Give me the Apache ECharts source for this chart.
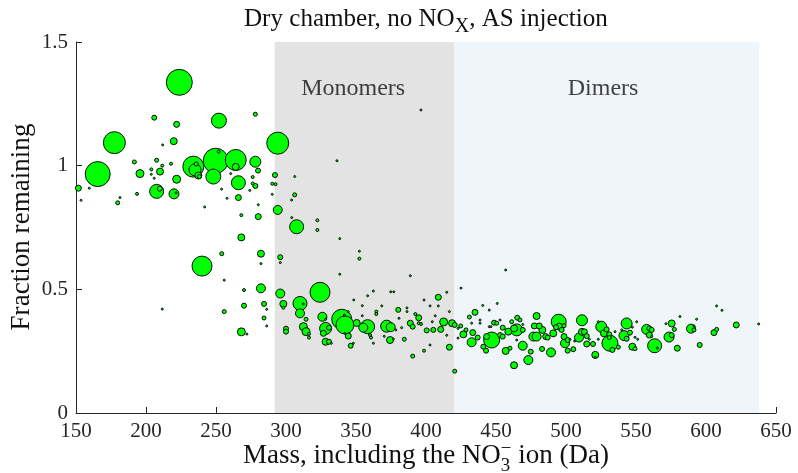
<!DOCTYPE html>
<html><head><meta charset="utf-8">
<script src="https://cdn.jsdelivr.net/npm/echarts@6/dist/echarts.min.js"></script>
<style>html,body{margin:0;padding:0;background:#fff}#c{width:798px;height:473px}</style>
</head><body><div id="c"></div><script>
// ---- data ----
const massDa = [
151.7,153.6,159.5,165.5,177.4,179.8,181.4,191.7,193.6,195.7,203.8,203.8,205.9,205.9,207.6,207.6,209.8,210,211.6,211.9,
211.6,217.9,219.8,220,221.5,221.9,221.9,223.8,233.8,235,237.4,235.9,238.1,240,241.9,248.1,249.8,251.9,252.1,254,
254.1,255.9,255.9,257.9,260.5,264.1,264.1,266,266,268.1,268.1,268.1,270,270,272.1,276.2,276.2,274.1,278.1,278.1,
278.1,280,280.2,280.2,282.1,282.1,282.1,284.3,284.3,286.2,286.2,
290.2,292.1,292.5,290.2,294.1,294.1,295.9,295.9,295.9,298.1,298.1,300,300,304,304.1,306.2,306.2,307.6,310,310,
312.4,312.4,314.3,314.3,316.4,316.4,322.4,322.4,324.3,326,328.3,328.3,330.7,326.7,328.3,330.7,332.4,336.4,338.4,338.4,
339.8,342.1,344.5,341.7,344.5,346.2,348.1,348.4,350.5,352.4,352.4,354.5,354.5,355.2,358.3,358.3,360,360.7,362.4,362.4,
364.5,364.5,368.4,371.9,374.8,370.2,374.3,376.7,374.8,377,380.2,380.7,378.4,382.6,384.5,386.4,386.4,388.8,388.8,390.5,
390.5,392.4,394.8,394.8,396.4,396.4,398.6,402.9,398.6,400.5,402.9,404.5,405.2,406.6,408.8,408.8,410.5,412.6,414.8,414.8,
416.7,416.7,418.6,420.5,420.5,422.9,422.9,342.1,
425,440.5,450.9,445.2,435,424.8,426.7,428.6,431,432.6,433.4,432.6,436.9,438.6,438.6,440.9,442.9,443.3,446.9,445.2,
446.4,448.6,450.5,452.9,454.8,452.9,454.8,456.9,460,458.8,461.2,462.9,464.8,465.2,467.1,462.9,469.1,469.1,469.1,464.8,
473.1,474.8,476.7,479,477.4,479,480.9,483.1,482.9,485.5,486.9,489.3,490.9,492.9,494.8,495.2,496.9,498.6,498.6,499.3,
501.2,502.9,501.2,505.2,506.2,509.3,511.4,511.4,513.1,514.8,514.8,516.7,519.3,520.9,520.9,523.1,523.1,525.2,527.1,529,
530.9,530.9,531.4,533.1,535,537.4,539.8,543.3,541.4,543.3,545.7,547.4,547.4,549.3,549.3,551.2,550.5,557.6,559.5,561.2,
559.5,561.2,563.3,565.2,571.4,575.5,577.4,581.4,573.6,575.5,579.5,589.3,591.4,591.4,593.3,595.5,607.6,611.4,605.7,607.6,
621.6,637.6,456.9
];
const fractionRemaining = [
0.909,0.86,0.909,0.966,1.093,0.85,0.871,1.015,0.886,0.968,0.985,0.965,1.194,0.949,1.022,0.896,0.907,0.976,1.0,1.084,
0.42,1.008,1.099,0.886,0.89,1.167,0.945,1.337,0.996,0.983,0.96,1.007,0.956,0.594,0.833,0.956,1.02,1.057,1.182,0.905,
0.644,0.537,0.41,0.868,0.968,1.023,0.995,0.931,0.871,0.80,0.71,0.328,0.497,0.434,0.319,0.954,0.928,0.90,1.016,1.208,
0.918,0.98,0.842,0.794,0.644,0.504,0.604,0.441,0.384,0.352,0.419,
0.927,0.962,0.925,0.884,1.091,0.821,0.63,0.608,0.483,0.441,0.426,0.341,0.329,0.861,0.79,0.956,0.882,0.753,0.443,0.403,
0.441,0.349,0.379,0.329,0.32,0.305,0.779,0.74,0.488,0.389,0.379,0.342,0.345,0.322,0.288,0.288,0.282,1.02,0.705,0.561,
0.379,0.356,0.41,0.396,0.311,0.272,0.282,0.457,0.364,0.654,0.624,0.393,0.434,0.345,0.349,0.474,0.315,0.305,0.493,0.282,
0.41,0.40,0.433,0.351,0.347,0.31,0.295,0.299,0.49,0.49,0.417,0.383,0.336,0.345,0.298,0.41,0.425,0.555,0.363,0.349,
0.23,0.40,0.385,0.363,0.36,1.225,0.457,0.433,0.252,0.334,0.275,0.369,0.336,0.393,0.468,0.433,0.338,0.368,0.488,0.314,
0.41,0.266,0.363,0.356,0.169,0.342,0.303,0.322,
0.505,0.435,0.443,0.416,0.407,0.352,0.318,0.336,0.388,0.363,0.325,0.286,0.305,0.376,0.363,0.268,0.252,0.309,0.295,0.349,
0.349,0.365,0.363,0.376,0.345,0.315,0.309,0.251,0.262,0.329,0.369,0.342,0.336,0.385,0.376,0.193,0.358,0.336,0.272,0.295,
0.214,0.248,0.309,0.309,0.352,0.392,0.352,0.336,0.259,0.309,0.305,0.245,0.322,0.347,0.369,0.349,0.336,0.353,0.309,0.282,
0.295,0.298,0.252,0.258,0.291,0.305,0.375,0.328,0.328,0.311,0.279,0.298,0.279,0.235,0.225,0.369,0.298,0.349,0.322,0.338,
0.318,0.305,0.282,0.255,0.329,0.266,0.336,0.362,0.313,0.30,0.325,0.347,0.268,0.26,0.306,0.298,0.369,0.338,0.342,0.336,
0.315,0.309,0.272,0.263,0.361,0.362,0.338,0.39,0.307,0.315,0.262,0.341,0.336,0.352,0.379,0.275,0.433,0.415,0.325,0.338,
0.356,0.36,0.578
];
// signal (marker area, arbitrary units)
const signalArea = [
36,4,4,625,484,16,4,16,9,64,9,4,25,4,16,196,25,49,9,4,
4,9,49,100,4,36,64,676,441,144,49,16,16,400,4,225,625,9,225,4,
16,4,16,4,4,441,49,196,36,9,49,64,9,25,4,9,9,4,121,16,
25,25,4,36,49,81,4,25,16,4,4,
9,25,9,4,484,81,25,4,81,49,9,25,25,4,4,4,16,196,196,81,
4,64,16,64,9,9,9,9,400,81,4,144,25,36,49,25,4,4,4,4,
400,324,4,4,36,25,4,4,49,4,9,4,4,81,196,4,9,9,4,4,
9,9,4,144,81,4,49,4,4,4,25,4,4,4,16,4,4,4,36,25,
16,9,36,9,9,4,4,4,9,25,4,4,25,4,36,4,36,64,4,4,
4,36,49,25,16,4,4,4,
4,4,4,4,36,16,49,16,16,4,36,81,25,4,4,25,25,36,256,4,
4,25,16,4,25,25,25,49,16,49,16,49,144,25,16,49,4,25,81,4,
81,25,81,81,36,49,36,49,25,36,25,81,49,25,225,49,25,16,36,81,
25,4,25,25,4,81,121,49,36,25,36,4,25,49,4,4,4,121,49,25,
25,16,256,25,4,16,4,121,100,25,25,4,49,16,4,4,4,100,25,25,
36,4,196,4,4,49,16,4,100,25,36,81,16,4,4,25,4,4,36,16,
36,4,4
];
const xTicks = {min: 150, max: 650, step: 50};
const yTicks = {min: 0, max: 1.5, step: 0.5};
const regionNames = ['Monomers', 'Dimers'];
const regionFrom = [292, 420];
const regionTo = [420, 638];
const regionLabelMass = [348, 526.5];
const regionLabelFrac = [1.31, 1.31];
const titleText = ['Dry chamber, no NO', 'X', ', AS injection'];
const xName = ['Mass, including the NO', '3', '\u2212', ' ion (Da)'];
const yName = 'Fraction remaining';

// ---- styling ----
const FONT = "'Liberation Serif', 'Times New Roman', serif";
const TXT = '#262626';
const regionColors = ['#e3e3e3', '#f0f5fa'];
const mctx = document.createElement('canvas').getContext('2d');
function tw(t, size) { mctx.font = size + 'px ' + FONT; return mctx.measureText(t).width; }
const MID = 0.34; // em-middle above baseline

function layoutLine(segs, targetW, cx, baseY) {
  const segW = (g, size) => g.stack ? Math.max(...g.stack.map(q => tw(q.t, size * q.s))) : tw(g.t, size * g.s);
  const w100 = segs.reduce((a, g) => a + segW(g, 100), 0);
  const size = 100 * targetW / w100;
  let x = cx - targetW / 2;
  const els = [];
  segs.forEach(g => {
    const parts = g.stack ? g.stack : [g];
    parts.forEach(q => {
      const fs = size * q.s;
      els.push({type: 'text', x: x, y: baseY + (q.dy || 0) * size - MID * fs, silent: true,
        style: {text: q.t, font: fs + 'px ' + FONT, fill: '#111', align: 'left', verticalAlign: 'middle'}});
    });
    x += segW(g, size);
  });
  return els;
}

const titleEls = layoutLine([
  {t: titleText[0], s: 1}, {t: titleText[1], s: 0.8, dy: 0.24}, {t: titleText[2], s: 1}
], 364, 426, 27.5);
const xNameEls = layoutLine([
  {t: xName[0], s: 1},
  {stack: [{t: xName[1], s: 0.7, dy: 0.26}, {t: xName[2], s: 0.7, dy: -0.36}]},
  {t: xName[3], s: 1}
], 366, 426, 465);
const ySize = 100 * 207 / tw(yName, 100);
const yNameEl = {type: 'text', x: 31 - MID * ySize, y: 227, rotation: Math.PI / 2, silent: true,
  style: {text: yName, font: ySize + 'px ' + FONT, fill: '#111', align: 'center', verticalAlign: 'middle'}};
const regionFont = 100 * 104 / tw(regionNames[0], 100);

const points = massDa.map((m, i) => [m, fractionRemaining[i], signalArea[i]])
  .sort((a, b) => b[2] - a[2]);

const axisCommon = {
  type: 'value', splitLine: {show: false},
  axisLine: {show: true, onZero: false, lineStyle: {color: TXT, width: 1}},
  axisTick: {show: true, inside: true, length: 6, lineStyle: {color: TXT, width: 1}},
  axisLabel: {fontFamily: FONT, fontSize: 21, color: TXT, margin: 8}
};

const chart = echarts.init(document.getElementById('c'), null, {renderer: 'canvas'});
chart.setOption({
  animation: false,
  grid: {left: 76, right: 22, top: 42, bottom: 60},
  xAxis: Object.assign({}, axisCommon, {min: xTicks.min, max: xTicks.max, interval: xTicks.step}),
  yAxis: Object.assign({}, axisCommon, {min: yTicks.min, max: yTicks.max, interval: yTicks.step}),
  graphic: titleEls.concat(xNameEls, [yNameEl]),
  series: [
    {
      type: 'scatter', z: 5, data: points,
      symbolSize: v => Math.sqrt(v[2]),
      itemStyle: {color: '#00ff00', borderColor: '#000', borderWidth: 0.95, opacity: 1},
      emphasis: {disabled: true},
      markArea: {
        silent: true,
        data: regionFrom.map((f, i) => [
          {xAxis: f, yAxis: yTicks.min, itemStyle: {color: regionColors[i]}},
          {xAxis: regionTo[i], yAxis: yTicks.max}
        ])
      }
    },
    {
      type: 'scatter', z: 6, symbolSize: 0, silent: true,
      data: regionNames.map((n, i) => ({value: [regionLabelMass[i], regionLabelFrac[i]], name: n})),
      label: {show: true, position: 'inside', formatter: p => p.name,
        fontFamily: FONT, fontSize: regionFont, color: '#111'}
    }
  ]
});
</script></body></html>
